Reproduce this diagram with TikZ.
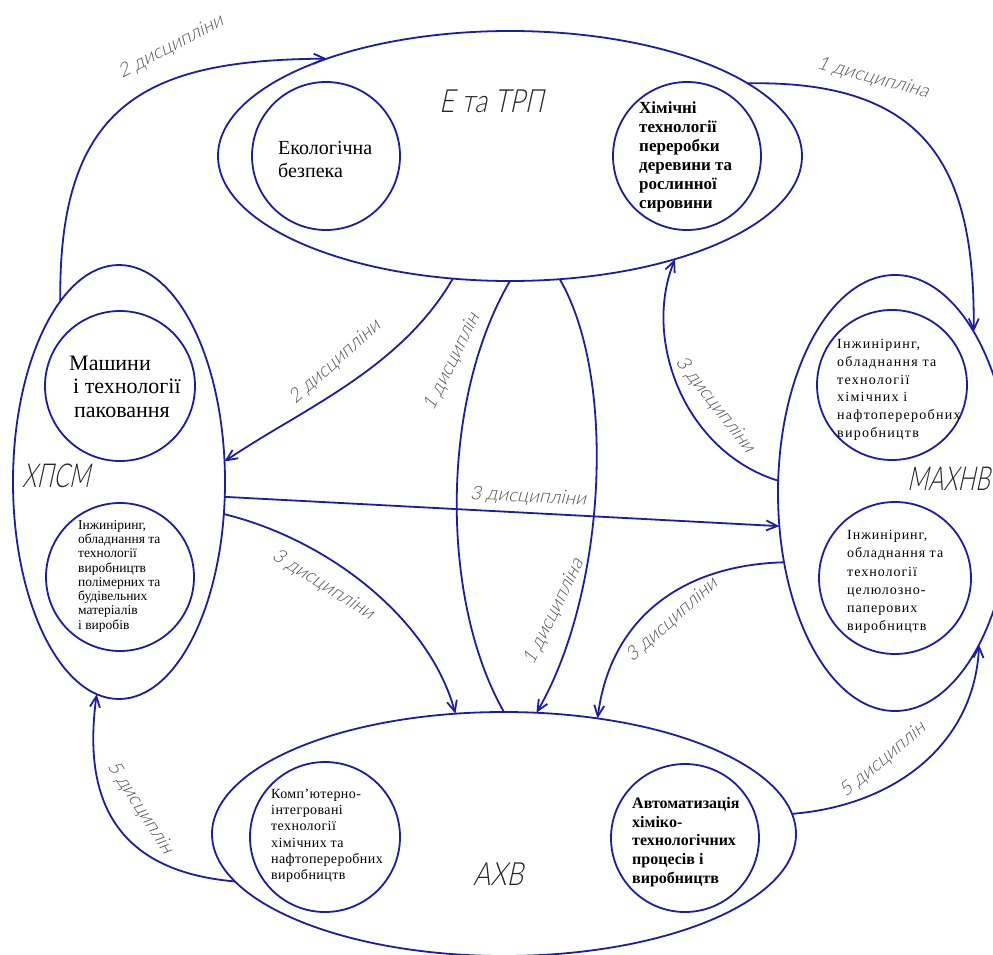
\documentclass[tikz,border=0pt]{standalone}
\usepackage{fontspec}
\setmainfont{Liberation Serif}
\IfFontExistsTF{Lato Light}{%
  \newfontfamily\gost{Lato Light}[FakeSlant=0.22]%
  \newfontfamily\gostbig{Lato Light}[FakeSlant=0.22,FakeStretch=0.82]%
  \newfontfamily\gostnarrow{Lato Light}[FakeSlant=0.22,FakeStretch=0.7]%
}{%
  \newfontfamily\gost{Liberation Sans}[FakeSlant=0.22]%
  \newfontfamily\gostbig{Liberation Sans}[FakeSlant=0.22,FakeStretch=0.82]%
  \newfontfamily\gostnarrow{Liberation Sans}[FakeSlant=0.22,FakeStretch=0.7]%
}
\usetikzlibrary{shapes.geometric,arrows.meta}
\definecolor{lineblue}{RGB}{28,28,165}
\definecolor{labelgray}{RGB}{85,85,85}
\begin{document}
\begin{tikzpicture}[x=1pt,y=-1pt,
  ln/.style={draw=lineblue, line width=1.8pt},
  arr/.style={ln, -{Straight Barb[length=11pt,width=10pt]}},
  bigell/.style={ellipse, draw=lineblue, line width=1.8pt, inner sep=0pt, outer sep=0pt},
  circ/.style={circle, draw=lineblue, line width=1.8pt, inner sep=0pt, outer sep=0pt},
  lbl/.style={font=\gost\fontsize{19}{19}\selectfont, text=labelgray, inner sep=0pt},
  big/.style={font=\gostbig\fontsize{32}{32}\selectfont, text=black!85, inner sep=0pt, anchor=base west},
  bignarrow/.style={big, font=\gostnarrow\fontsize{33}{33}\selectfont},
  ctext/.style={align=left, inner sep=0pt, anchor=north west}]
\useasboundingbox (0,0) rectangle (993,955);
\fill[white] (0,0) rectangle (993,955);

% big ellipses
\node[bigell, minimum width=584pt, minimum height=250pt] (etp) at (510,156) {};
\node[bigell, minimum width=212pt, minimum height=434pt] (hpsm) at (119,482) {};
\node[bigell, minimum width=234pt, minimum height=436pt] (mahnv) at (895,493) {};
\node[bigell, minimum width=584pt, minimum height=244pt] (ahv) at (504,834) {};

% circles
\node[circ, minimum size=148pt] (ceko) at (326,156) {};
\node[circ, minimum size=148pt] (chim) at (687,156) {};
\node[circ, minimum size=150pt] (cmash) at (120,386) {};
\node[circ, minimum size=148pt] (cinz1) at (120,577) {};
\node[circ, minimum size=150pt] (cinz2) at (892,385) {};
\node[circ, minimum size=152pt] (cinz3) at (895,578) {};
\node[circ, minimum size=150pt] (ckomp) at (325,837) {};
\node[circ, minimum size=148pt] (cavto) at (685,838) {};

% circle texts
\node[ctext, font=\fontsize{20}{23}\selectfont] (teko) at (278,141) {Екологічна\\безпека};
\node[ctext, font=\bfseries\fontsize{17}{19}\selectfont] (thim) at (639,102) {Хімічні\\технології\\переробки\\деревини та\\рослинної\\сировини};
\node[ctext, font=\fontsize{22}{23.2}\selectfont] (tmash) at (69,356) {Машини\\\hspace{4pt}і технології\\\hspace{5pt}паковання};
\node[ctext, font=\fontsize{13.5}{14.3}\selectfont] (tinz1) at (78,520) {Інжиніринг,\\обладнання та\\технології\\виробництв\\полімерних та\\будівельних\\матеріалів\\і виробів};
\node[ctext, font=\addfontfeature{LetterSpace=9}\fontsize{14}{17.8}\selectfont] (tinz2) at (837,339) {Інжиніринг,\\обладнання та\\технології\\хімічних і\\нафтопереробних\\виробництв};
\node[ctext, font=\addfontfeature{LetterSpace=7}\fontsize{14}{18.3}\selectfont] (tinz3) at (847,530) {Інжиніринг,\\обладнання та\\технології\\целюлозно-\\паперових\\виробництв};
\node[ctext, font=\addfontfeature{LetterSpace=3}\fontsize{14}{16.2}\selectfont] (tkomp) at (271,789) {Комп'ютерно-\\інтегровані\\технології\\хімічних та\\нафтопереробних\\виробництв};
\node[ctext, font=\bfseries\fontsize{16}{18.8}\selectfont] (tavto) at (632,797) {Автоматизація\\хіміко-\\технологічних\\процесів і\\виробництв};

% department labels
\node[big] (letp) at (439,113) {Е та ТРП};
\node[bignarrow] (lhpsm) at (22,487) {ХПСМ};
\node[bignarrow] (lmahnv) at (907,490) {МАХНВ};
\node[big] (lahv) at (473,885) {АХВ};

% connectors
\draw[arr] (hpsm.108) .. controls (58,100) and (150,60) .. (etp.152);
\draw[arr] (etp.17) .. controls (930,80) and (975,170) .. (mahnv.64);
\draw[arr] (etp.245) .. controls (400,370) and (300,410) .. (hpsm.11);
\draw[ln] (etp.-90) .. controls (440,400) and (440,600) .. (ahv.90);
\draw[arr] (etp.-68) .. controls (618,380) and (605,595) .. (ahv.75);
\draw[arr] (hpsm.-8) -- (mahnv.196);
\draw[arr] (hpsm.-17) .. controls (330,540) and (430,620) .. (ahv.112);
\draw[arr] (mahnv.174) .. controls (685,452) and (642,340) .. (etp.-32);
\draw[arr] (mahnv.212) .. controls (680,565) and (610,620) .. (ahv.51);
\draw[arr] (ahv.190) .. controls (100,870) and (85,780) .. (hpsm.264);
\draw[arr] (ahv.4) .. controls (900,805) and (975,740) .. (mahnv.-61);

% connector labels
\node[lbl, rotate=28] (ltl) at (171,47) {2 дисципліни};
\node[lbl, rotate=-15] (ltr) at (873,78) {1 дисципліна};
\node[lbl, rotate=42] (lcl) at (335,362) {2 дисципліни};
\node[lbl, rotate=64] (lc1) at (452,362) {1 дисциплін};
\node[lbl, rotate=64] (lc2) at (554,612) {1 дисципліна};
\node[lbl, rotate=-3] (lh) at (528,497) {3 дисципліни};
\node[lbl, rotate=-32] (lll) at (323,585) {3 дисципліни};
\node[lbl, rotate=-52] (lur) at (715,405) {3 дисципліни};
\node[lbl, rotate=42] (llr) at (672,620) {3 дисципліни};
\node[lbl, rotate=-57] (lbl5) at (140,808) {5 дисциплін};
\node[lbl, rotate=40] (lbr5) at (883,760) {5 дисциплін};
\end{tikzpicture}
\end{document}
